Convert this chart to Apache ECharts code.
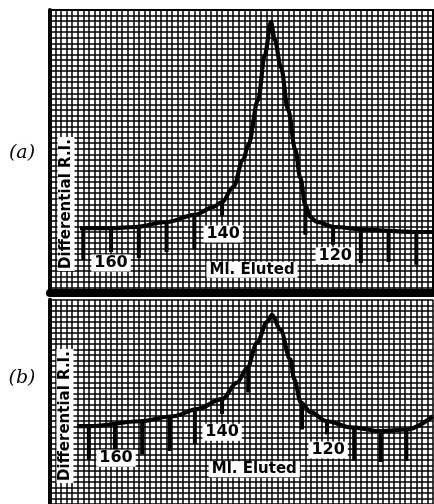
<!DOCTYPE html>
<html><head><meta charset="utf-8">
<script src="https://cdn.jsdelivr.net/npm/echarts@6/dist/echarts.min.js"></script>
<style>html,body{margin:0;padding:0;background:#fff}#c{width:434px;height:504px}</style>
</head><body><div id="c"></div>
<script>
// ---- data (Ml. eluted vs differential R.I., chart-paper divisions) ----
const curveA_ml = [165.6, 160.2, 155.7, 149.9, 144.9, 141.6, 140.0, 138.0, 136.2, 135.3, 133.5, 132.3, 131.2, 130.5, 129.4, 128.1, 126.8, 125.9, 125.0, 124.1, 122.9, 119.8, 113.9, 105.4, 102.0];
const curveA_ri = [-0.3, -0.3, -0.1, 0.8, 2.1, 3.5, 4.4, 7.1, 12.0, 14.6, 22.8, 30.9, 36.8, 33.6, 28.7, 21.0, 13.8, 8.7, 3.9, 1.7, 0.8, -0.1, -0.6, -1.0, -1.0];
const curveB_ml = [166.1, 163.8, 154.8, 148.8, 144.5, 140.0, 137.3, 135.5, 133.7, 131.9, 131.0, 129.5, 127.7, 127.0, 125.8, 124.0, 121.1, 116.8, 111.4, 106.7, 102.0];
const curveB_ri = [0.1, 0.1, 1.0, 1.9, 3.2, 5.0, 8.0, 10.6, 15.2, 19.0, 20.3, 17.6, 12.2, 8.6, 4.4, 2.6, 1.0, -0.1, -0.8, -0.5, 1.9];
const tickA_ml = [165, 160, 155, 150, 145, 140, 125, 120, 115, 110, 105];
const tickA_top = [-0.3, -0.3, -0.1, 0.8, 2.1, 4.4, 3.9, -0.1, -0.6, -0.8, -1.0];
const tickA_bottom = [-6.0, -4.6, -5.7, -4.6, -4.2, 2.0, -1.5, -3.3, -6.6, -6.4, -6.9];
const tickB_ml = [164, 159.3, 154.4, 149.4, 144.9, 140, 135.3, 125.6, 121.1, 116.2, 111.4, 106.8];
const tickB_top = [0.1, 0.5, 1.0, 1.8, 3.1, 5.0, 10.5, 4.4, 1.0, -0.1, -0.8, -0.5];
const tickB_bottom = [-5.9, -4.4, -5.0, -4.4, -3.1, 2.3, 6.2, -0.5, -1.4, -6.2, -6.4, -6.2];
const axisLabels = ['160', '140', '120', 'Ml. Eluted'];
const yTitle = 'Differential R.I.';
const panelNames = ['(a)', '(b)'];

// label anchors (data coordinates)
const labelAnchorsA = [[160, -6.6], [139.8, -1.35], [119.6, -5.3], [134.6, -7.8]];
const labelAnchorsB = [[159.1, -5.7], [140, -1.0], [120.9, -4.2], [134.2, -7.7]];

const chart = echarts.init(document.getElementById('c'), null, {renderer: 'canvas'});
const FONT = '"DejaVu Sans", sans-serif';
const gridLine = {show: true, lineStyle: {color: '#000', width: 1.5}};

function xAx(i) {
  return {type: 'value', gridIndex: i, inverse: true, min: 102, max: 171, interval: 1,
    axisLabel: {show: false}, axisTick: {show: false},
    axisLine: {show: i === 0, onZero: false, lineStyle: {color: '#000', width: 8}},
    splitLine: gridLine};
}
function yAx(i, mn, mx) {
  return {type: 'value', gridIndex: i, min: mn, max: mx, interval: 1,
    axisLabel: {show: false}, axisTick: {show: false},
    axisLine: {show: true, lineStyle: {color: '#000', width: 4}},
    splitLine: gridLine};
}
function zip(a, b) { return a.map((v, i) => [v, b[i]]); }
function zip3(a, b, c) { return a.map((v, i) => [v, b[i], c[i]]); }

function tickSeries(i, data) {
  return {type: 'custom', xAxisIndex: i, yAxisIndex: i, data: data, z: 3,
    renderItem: (params, api) => {
      const p1 = api.coord([api.value(0), api.value(1)]);
      const p2 = api.coord([api.value(0), api.value(2)]);
      return {type: 'line', shape: {x1: p1[0], y1: p1[1], x2: p2[0], y2: p2[1]},
        style: {stroke: '#000', lineWidth: 4}};
    }};
}
function labelSeries(i, anchors) {
  const data = anchors.map((a, k) => [a[0], a[1], k]);
  return {type: 'custom', xAxisIndex: i, yAxisIndex: i, data: data, z: 5,
    renderItem: (params, api) => {
      const p = api.coord([api.value(0), api.value(1)]);
      const k = api.value(2);
      const t = axisLabels[k];
      return {type: 'text', x: p[0], y: p[1],
        style: {text: t, fill: '#000', font: 'bold ' + (k === 3 ? 15 : 16) + 'px ' + FONT,
          align: 'center', verticalAlign: 'middle', backgroundColor: '#fff', padding: [1, 3, 0, 3]}};
    }};
}

const option = {
  backgroundColor: '#fff',
  animation: false,
  grid: [
    {left: 50, right: 1, top: 10, height: 283.05, show: true, borderColor: '#000', borderWidth: 2},
    {left: 50, right: 1, top: 299.85, height: 205.35, show: false}
  ],
  xAxis: [xAx(0), xAx(1)],
  yAxis: [yAx(0, -12, 39), yAx(1, -14, 23)],
  series: [
    {type: 'line', xAxisIndex: 0, yAxisIndex: 0, data: zip(curveA_ml, curveA_ri), smooth: 0.35, smoothMonotone: 'x',
      symbol: 'none', lineStyle: {color: '#000', width: 4.2}, z: 4},
    {type: 'line', xAxisIndex: 1, yAxisIndex: 1, data: zip(curveB_ml, curveB_ri), smooth: 0.35, smoothMonotone: 'x',
      symbol: 'none', lineStyle: {color: '#000', width: 4.2}, z: 4},
    tickSeries(0, zip3(tickA_ml, tickA_top, tickA_bottom)),
    tickSeries(1, zip3(tickB_ml, tickB_top, tickB_bottom)),
    labelSeries(0, labelAnchorsA),
    labelSeries(1, labelAnchorsB)
  ],
  graphic: [
    {type: 'text', x: 22, y: 153, style: {text: panelNames[0], font: 'italic 19px "DejaVu Serif", serif', fill: '#000', align: 'center', verticalAlign: 'middle'}},
    {type: 'text', x: 22, y: 378, style: {text: panelNames[1], font: 'italic 19px "DejaVu Serif", serif', fill: '#000', align: 'center', verticalAlign: 'middle'}},
    {type: 'text', x: 66, y: 204, rotation: Math.PI / 2, z: 10, style: {text: yTitle, font: 'bold 15px ' + FONT, fill: '#000', align: 'center', verticalAlign: 'middle', backgroundColor: '#fff', padding: [1, 2]}},
    {type: 'text', x: 65, y: 416, rotation: Math.PI / 2, z: 10, style: {text: yTitle, font: 'bold 15px ' + FONT, fill: '#000', align: 'center', verticalAlign: 'middle', backgroundColor: '#fff', padding: [1, 2]}}
  ]
};
chart.setOption(option);
</script></body></html>
